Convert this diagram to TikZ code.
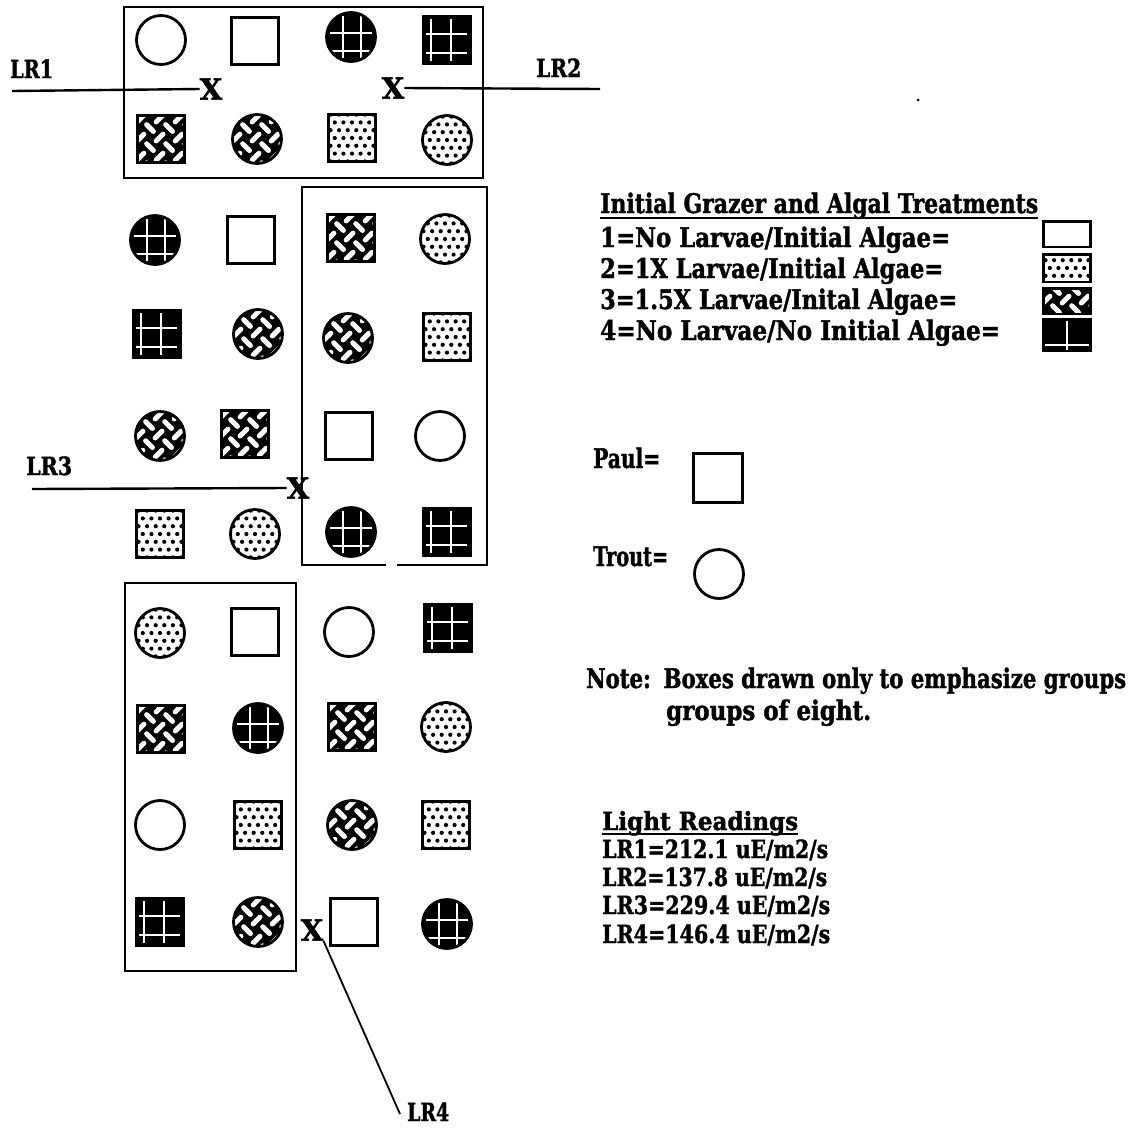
\documentclass[tikz,border=0pt]{standalone}
\usepackage{fontspec}
\setmainfont{DejaVu Serif}[BoldFeatures={FakeBold=1.6}]
\usepackage{graphicx}
\newlength\fitlen
\newcommand\fitw[2]{\settowidth\fitlen{#2}\pgfmathsetmacro\fitr{#1/\fitlen}\scalebox{\fitr}[1]{#2}}
\newcommand\weavecode{%
 \begin{scope}[shift={(path picture bounding box.center)}]
  \foreach \i in {-3,...,3}{\foreach \j in {-3,...,3}{%
   \pgfmathtruncatemacro\wodd{mod(\i+\j+10,2)}%
   \pgfmathsetmacro\cx{(\i*13.5-\j*13.5-2)*0.7071}%
   \pgfmathsetmacro\cy{(\i*13.5+\j*13.5+2)*0.7071}%
   \ifnum\wodd=0
     \draw[white, line width=5pt, line cap=round] (\cx pt-3.4pt,\cy pt-3.4pt) -- (\cx pt+3.4pt,\cy pt+3.4pt);
   \else
     \draw[white, line width=5pt, line cap=round] (\cx pt+3.4pt,\cy pt-3.4pt) -- (\cx pt-3.4pt,\cy pt+3.4pt);
   \fi}}
 \end{scope}}
\newcommand\dotcode{%
 \begin{scope}[shift={(path picture bounding box.center)}]
  \foreach \j in {-3,...,3}{\foreach \i in {-4,...,4}{%
   \pgfmathsetmacro\dx{\i*8.6+mod(\j+10,2)*4.3}%
   \fill[black] (\dx pt, \j*7.8pt) circle[radius=2.1pt];}}
 \end{scope}}
\newcommand\gridsqcode{%
 \begin{scope}[shift={(path picture bounding box.center)}]
  \draw[white, line width=1.6pt] (-16pt,-21pt) -- (-16pt,21pt) (4pt,-21pt) -- (4pt,21pt)
    (-21pt,6pt) -- (20pt,6pt) (-21pt,-13pt) -- (20pt,-13pt);
 \end{scope}}
\newcommand\gridcicode{%
 \begin{scope}[shift={(path picture bounding box.center)}]
  \draw[white, line width=1.6pt] (-8pt,-21pt) -- (-8pt,21pt) (10pt,-21pt) -- (10pt,21pt)
    (-21pt,4pt) -- (21pt,4pt) (-19pt,-14pt) -- (19pt,-14pt);
 \end{scope}}
\newcommand\gridlegcode{%
 \begin{scope}[shift={(path picture bounding box.center)}]
  \draw[white, line width=1.6pt] (0pt,-20pt) -- (0pt,20pt) (-24pt,-10pt) -- (24pt,-10pt);
 \end{scope}}
\tikzset{
 boxline/.style={line width=2.6pt},
 lrline/.style={line width=2.4pt},
 sym/.style={draw, line width=2.8pt, inner sep=0pt, outer sep=0pt},
 sO/.style={sym, circle, minimum size=49pt},
 sS/.style={sym, rectangle, minimum size=47pt},
 sWS/.style={sS, fill=black, path picture={\weavecode}},
 sWC/.style={sO, fill=black, path picture={\weavecode}},
 sDS/.style={sS, fill=white, path picture={\dotcode}},
 sDC/.style={sO, fill=white, path picture={\dotcode}},
 sFS/.style={sS, fill=black, path picture={\gridsqcode}},
 sFC/.style={sO, fill=black, path picture={\gridcicode}},
 lbox/.style={draw, line width=2.5pt, inner sep=0pt, minimum width=47pt},
 lgd/.style={font=\bfseries\fontsize{27}{30}\selectfont, inner sep=0pt, anchor=base west},
 lrd/.style={font=\bfseries\fontsize{25}{28}\selectfont, inner sep=0pt, anchor=base west},
 lab/.style={font=\bfseries\fontsize{25}{27}\selectfont, inner sep=0pt, anchor=base west},
 xm/.style={font=\bfseries\fontsize{29}{30}\selectfont, inner sep=0pt},
 uline/.style={line width=1.6pt},
}
\begin{document}
\begin{tikzpicture}[x=1pt,y=-1pt]
\fill[white] (0,0) rectangle (1133,1128);
\useasboundingbox (0,0) rectangle (1133,1128);

% group boxes
\draw[boxline] (124,7) rectangle (483,178);
\draw[boxline] (386,565) -- (302,565) -- (302,187) -- (487,187) -- (487,565) -- (397,565);
\draw[boxline] (125,583) rectangle (296,971);

% top group
\node[sO]  (a1) at (161,40) {};
\node[sS]  (a2) at (255,41) {};
\node[sFC] (a3) at (351,37) {};
\node[sFS] (a4) at (447,40) {};
\node[sWS] (a5) at (161,139) {};
\node[sWC] (a6) at (257,139) {};
\node[sDS] (a7) at (352,138) {};
\node[sDC] (a8) at (447,140) {};

% middle rows
\node[sFC] (c1) at (155,240) {};
\node[sS]  (c2) at (251,240) {};
\node[sWS] (c3) at (351,238) {};
\node[sDC] (c4) at (445,239) {};
\node[sFS] (d1) at (157,334) {};
\node[sWC] (d2) at (258,334) {};
\node[sWC] (d3) at (348,338) {};
\node[sDS] (d4) at (447,337) {};
\node[sWC] (e1) at (160,436) {};
\node[sWS] (e2) at (245,434) {};
\node[sS]  (e3) at (349,436) {};
\node[sO]  (e4) at (440,436) {};
\node[sDS] (f1) at (160,534) {};
\node[sDC] (f2) at (255,534) {};
\node[sFC] (f3) at (351,532) {};
\node[sFS] (f4) at (447,532) {};

% bottom rows
\node[sDC] (g1) at (160,633) {};
\node[sS]  (g2) at (255,632) {};
\node[sO]  (g3) at (349,632) {};
\node[sFS] (g4) at (448,628) {};
\node[sWS] (h1) at (161,729) {};
\node[sFC] (h2) at (258,728) {};
\node[sWS] (h3) at (352,727) {};
\node[sDC] (h4) at (446,727) {};
\node[sO]  (i1) at (160,825) {};
\node[sDS] (i2) at (258,825) {};
\node[sWC] (i3) at (352,825) {};
\node[sDS] (i4) at (446,825) {};
\node[sFS] (j1) at (160,922) {};
\node[sWC] (j2) at (258,922) {};
\node[sS]  (j3) at (354,922) {};
\node[sFC] (j4) at (447,924) {};

% light reading points
\node[xm] (x1) at (211,89) {X};
\node[xm] (x2) at (393,88) {X};
\node[xm] (x3) at (298,488) {X};
\node[xm] (x4) at (312,930) {X};
\node[lab] (lr1) at (10,78) {\fitw{43}{LR1}};
\node[lab] (lr2) at (536,77) {\fitw{45}{LR2}};
\node[lab] (lr3) at (26,475) {\fitw{46}{LR3}};
\node[lab] (lr4) at (407,1121) {\fitw{42}{LR4}};
\coordinate (lr1s) at (12,91);
\coordinate (lr2e) at (600,89);
\coordinate (lr3s) at (32,489);
\coordinate (lr4e) at (400,1114);
\draw[lrline] (lr1s) -- (x1.west);
\draw[lrline] (x2.east) -- (lr2e);
\draw[lrline] (lr3s) -- (x3.west);
\draw[line width=1.8pt] (x4.south east) -- (lr4e);
\fill (918,100) circle[radius=1.5];

% legend
\node[lgd] (lt) at (600,213) {\fitw{438}{Initial Grazer and Algal Treatments}};
\draw[uline] ([yshift=-5pt]lt.base west) -- ([yshift=-5pt]lt.base east);
\node[lgd] (l1) at (600,247) {\fitw{350}{1=No Larvae/Initial Algae=}};
\node[lgd] (l2) at (600,278) {\fitw{343}{2=1X Larvae/Initial Algae=}};
\node[lgd] (l3) at (600,309) {\fitw{357}{3=1.5X Larvae/Inital Algae=}};
\node[lgd] (l4) at (600,340) {\fitw{400}{4=No Larvae/No Initial Algae=}};
\node[lbox, minimum height=25.5pt] (k1) at (1067,234) {};
\node[lbox, minimum height=27.5pt, fill=white, path picture={\dotcode}] (k2) at (1067,268) {};
\node[lbox, minimum height=25.5pt, fill=black, path picture={\weavecode}] (k3) at (1067,301) {};
\node[lbox, minimum height=31.5pt, fill=black, path picture={\gridlegcode}] (k4) at (1067,335) {};

% Paul / Trout
\node[lgd] (paul) at (593,468) {\fitw{67}{Paul=}};
\node[sS, minimum size=49pt] (pbox) at (718,478) {};
\node[lgd] (trout) at (593,566) {\fitw{75}{Trout=}};
\node[sO] (tcirc) at (719,574) {};

% note
\node[lgd] (n1) at (586,688) {\fitw{540}{Note:\hspace{0.6em}Boxes drawn only to emphasize groups}};
\node[lgd] (n2) at (666,720) {\fitw{205}{groups of eight.}};

% light readings
\node[lrd] (lrt) at (602,830) {\fitw{196}{Light Readings}};
\draw[uline] ([yshift=-4pt]lrt.base west) -- ([yshift=-4pt]lrt.base east);
\node[lrd] (r1) at (602,858) {\fitw{226}{LR1=212.1 uE/m2/s}};
\node[lrd] (r2) at (602,886) {\fitw{225}{LR2=137.8 uE/m2/s}};
\node[lrd] (r3) at (602,914) {\fitw{228}{LR3=229.4 uE/m2/s}};
\node[lrd] (r4) at (602,943) {\fitw{228}{LR4=146.4 uE/m2/s}};
\end{tikzpicture}
\end{document}
